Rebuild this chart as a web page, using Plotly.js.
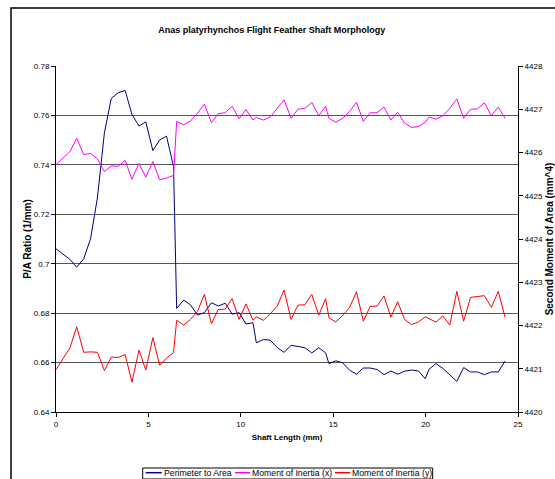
<!DOCTYPE html>
<html>
<head>
<meta charset="utf-8">
<script src="https://cdn.plot.ly/plotly-3.0.1.min.js"></script>
<style>
  html, body { margin: 0; padding: 0; background: #fff; }
  #chart { width: 555px; height: 479px; }
</style>
</head>
<body>
<div id="chart"></div>
<script>
// Shaft length (mm) for each measurement
const shaftLength = [0, 0.37, 0.75, 1.12, 1.50, 1.87, 2.24, 2.62, 2.99, 3.37, 3.74, 4.11, 4.49, 4.86, 5.24, 5.61, 5.98, 6.36,
  6.53, 6.91, 7.28, 7.66, 8.03, 8.41, 8.78, 9.16, 9.53, 9.91, 10.28, 10.66,
  10.84, 11.22, 11.59, 11.97, 12.34, 12.72, 13.09, 13.47, 13.84, 14.22, 14.59,
  14.77, 15.14, 15.51, 15.89, 16.26, 16.63, 17.00, 17.37, 17.75, 18.12, 18.49, 18.86, 19.24, 19.61, 19.98,
  20.19, 20.56, 20.94, 21.31, 21.69, 22.06, 22.43, 22.81, 23.18, 23.56, 23.93, 24.30];

// Perimeter to Area (1/mm) - left axis
const perimeterToArea = [0.7060, 0.7039, 0.7018, 0.6986, 0.7020, 0.7101, 0.7266, 0.7530, 0.7669, 0.7692, 0.7701, 0.7604, 0.7557, 0.7574, 0.7458, 0.7501, 0.7516, 0.7394,
  0.6819, 0.6853, 0.6833, 0.6792, 0.6802, 0.6842, 0.6829, 0.6840, 0.6796, 0.6802, 0.6756, 0.6761,
  0.6680, 0.6693, 0.6691, 0.6661, 0.6641, 0.6670, 0.6664, 0.6660, 0.6639, 0.6660, 0.6639,
  0.6596, 0.6607, 0.6599, 0.6569, 0.6553, 0.6578, 0.6578, 0.6572, 0.6551, 0.6566, 0.6553, 0.6565, 0.6570, 0.6566, 0.6535,
  0.6573, 0.6596, 0.6576, 0.6551, 0.6524, 0.6580, 0.6562, 0.6562, 0.6551, 0.6562, 0.6562, 0.6606];

// Moment of Inertia (x) - right axis (mm^4)
const inertiaX = [4425.72, 4425.87, 4426.02, 4426.33, 4425.95, 4425.98, 4425.85, 4425.56, 4425.69, 4425.68, 4425.82, 4425.38, 4425.75, 4425.43, 4425.79, 4425.37, 4425.41, 4425.47,
  4426.72, 4426.64, 4426.73, 4426.91, 4427.12, 4426.69, 4426.90, 4426.92, 4427.07, 4426.78, 4426.99, 4426.75,
  4426.81, 4426.75, 4426.82, 4427.02, 4427.22, 4426.79, 4427.00, 4427.02, 4427.16, 4426.85, 4427.07,
  4426.79, 4426.70, 4426.79, 4426.95, 4427.16, 4426.72, 4426.92, 4426.92, 4427.05, 4426.75, 4426.93, 4426.68, 4426.58, 4426.60, 4426.70,
  4426.82, 4426.77, 4426.85, 4427.02, 4427.24, 4426.79, 4427.00, 4427.01, 4427.15, 4426.85, 4427.05, 4426.79];

// Moment of Inertia (y) - right axis (mm^4)
const inertiaY = [4420.98, 4421.22, 4421.48, 4421.97, 4421.38, 4421.39, 4421.38, 4420.96, 4421.27, 4421.26, 4421.33, 4420.69, 4421.43, 4420.97, 4421.72, 4421.08, 4421.25, 4421.37,
  4422.12, 4422.01, 4422.14, 4422.33, 4422.72, 4422.04, 4422.37, 4422.38, 4422.62, 4422.14, 4422.50, 4422.12,
  4422.20, 4422.12, 4422.27, 4422.45, 4422.82, 4422.14, 4422.47, 4422.48, 4422.72, 4422.24, 4422.62,
  4422.18, 4422.08, 4422.23, 4422.42, 4422.78, 4422.10, 4422.44, 4422.45, 4422.68, 4422.19, 4422.55, 4422.14, 4422.02, 4422.08, 4422.20,
  4422.15, 4422.08, 4422.22, 4422.01, 4422.79, 4422.10, 4422.65, 4422.67, 4422.69, 4422.42, 4422.79, 4422.19];

const seriesNames = ['Perimeter to Area', 'Moment of Inertia (x)', 'Moment of Inertia (y)'];
const seriesColors = ['#000080', '#FF00FF', '#FF0000'];

const leftTickVals = [0.64, 0.66, 0.68, 0.70, 0.72, 0.74, 0.76, 0.78];
const leftTickText = ['0.64', '0.66', '0.68', '0.7', '0.72', '0.74', '0.76', '0.78'];
const rightTickVals = [4420, 4421, 4422, 4423, 4424, 4425, 4426, 4427, 4428];
const xTickVals = [0, 5, 10, 15, 20, 25];

const FONT = 'Liberation Sans, Arial, sans-serif';

const traces = [
  { x: shaftLength, y: perimeterToArea, name: seriesNames[0], type: 'scatter', mode: 'lines',
    line: { color: seriesColors[0], width: 1 }, yaxis: 'y' },
  { x: shaftLength, y: inertiaX, name: seriesNames[1], type: 'scatter', mode: 'lines',
    line: { color: seriesColors[1], width: 1 }, yaxis: 'y2' },
  { x: shaftLength, y: inertiaY, name: seriesNames[2], type: 'scatter', mode: 'lines',
    line: { color: seriesColors[2], width: 1 }, yaxis: 'y2' }
];

// plot area in pixels: x 56..518, y 66..412
const L = 56, R = 518, T = 66, B = 412;
const px = v => (v - L) / (R - L);
const py = v => (B - v) / (B - T);

const legendY = py(472.7);
const legendItems = [
  { x0: 145.7, x1: 161.7, tx: 162.5 },
  { x0: 235, x1: 250, tx: 251 },
  { x0: 335, x1: 350, tx: 351 }
];

const shapes = [
  // outer chart frame
  { type: 'rect', xref: 'paper', yref: 'paper', x0: px(11), x1: px(700), y0: py(700), y1: py(8),
    line: { color: '#000', width: 1.5 }, fillcolor: 'rgba(0,0,0,0)', layer: 'above' },
  // legend box
  { type: 'rect', xref: 'paper', yref: 'paper', x0: px(142.7), x1: px(432.7), y0: py(479), y1: py(468),
    line: { color: '#000', width: 1 }, fillcolor: '#fff' }
];
const annotations = [];
legendItems.forEach((it, i) => {
  shapes.push({ type: 'line', xref: 'paper', yref: 'paper', x0: px(it.x0), x1: px(it.x1), y0: legendY, y1: legendY,
    line: { color: seriesColors[i], width: 1.5 } });
  annotations.push({ xref: 'paper', yref: 'paper', x: px(it.tx), y: legendY, xanchor: 'left', yanchor: 'middle',
    text: seriesNames[i], showarrow: false, borderpad: 0,
    font: { family: FONT, size: 8.7, color: '#000' } });
});

const layout = {
  width: 555, height: 479,
  margin: { l: L, r: 555 - R, t: T, b: 479 - B, pad: 0 },
  paper_bgcolor: '#fff', plot_bgcolor: '#fff',
  showlegend: false,
  font: { family: FONT, color: '#000' },
  title: { text: 'Anas platyrhynchos Flight Feather Shaft Morphology',
    font: { family: FONT, size: 9, weight: 'bold', color: '#000' },
    xref: 'paper', x: px(271.7), xanchor: 'center', yref: 'container', y: 1 - 30 / 479, yanchor: 'middle' },
  xaxis: {
    range: [0, 25], tickvals: xTickVals, ticks: 'outside', ticklen: 4, tickcolor: '#000',
    showline: true, linecolor: '#000', linewidth: 1, showgrid: false, zeroline: false,
    tickfont: { family: FONT, size: 8, color: '#000' },
    title: { text: 'Shaft Length (mm)', font: { family: FONT, size: 8, weight: 'bold', color: '#000' }, standoff: 6 }
  },
  yaxis: {
    range: [0.64, 0.78], tickvals: leftTickVals, ticktext: leftTickText, ticks: 'outside', ticklen: 4, tickcolor: '#000',
    showline: true, linecolor: '#000', linewidth: 1, showgrid: true, gridcolor: '#555', gridwidth: 1, zeroline: false,
    tickfont: { family: FONT, size: 8, color: '#000' },
    title: { text: 'P/A Ratio (1/mm)', font: { family: FONT, size: 10, weight: 'bold', color: '#000' }, standoff: 0 }
  },
  yaxis2: {
    range: [4420, 4428], tickvals: rightTickVals, overlaying: 'y', side: 'right', ticks: 'outside', ticklen: 4, tickcolor: '#000',
    showline: true, linecolor: '#000', linewidth: 1, showgrid: false, zeroline: false,
    tickfont: { family: FONT, size: 8, color: '#000' },
    title: { text: 'Second Moment of Area (mm^4)', font: { family: FONT, size: 10, weight: 'bold', color: '#000' }, standoff: 7 }
  },
  shapes: shapes,
  annotations: annotations
};

Plotly.newPlot('chart', traces, layout, { displayModeBar: false, staticPlot: true });
</script>
</body>
</html>
